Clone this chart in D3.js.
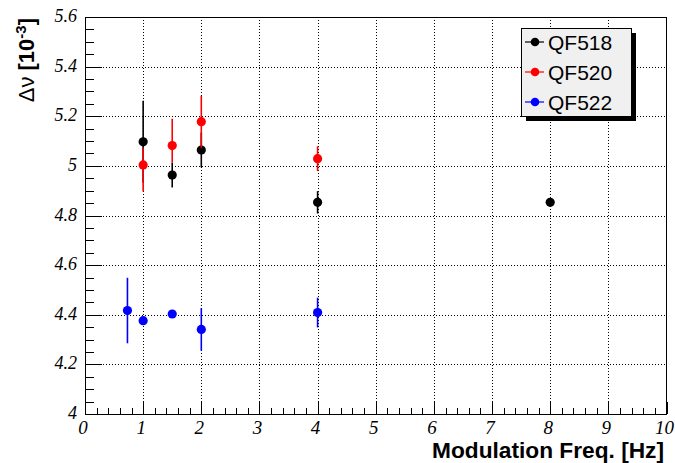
<!DOCTYPE html>
<html>
<head>
<meta charset="utf-8">
<script src="https://cdn.jsdelivr.net/npm/d3@7"></script>
<style>
  html, body { margin: 0; padding: 0; background: #fff; }
  svg { display: block; }
</style>
</head>
<body>
<svg id="chart" width="675" height="463"></svg>
<script>
// Line width measurements vs. modulation frequency
const seriesNames = ["QF518", "QF520", "QF522"];
const seriesColors = ["#000000", "#ff0000", "#0000ff"];

const qf518Freq = [1, 1.5, 2, 4, 8];
const qf518Val  = [5.097, 4.963, 5.064, 4.853, 4.853];
const qf518ErrLo = [0.165, 0.05, 0.07, 0.045, 0.01];
const qf518ErrHi = [0.165, 0.05, 0.07, 0.045, 0.01];

const qf520Freq = [1, 1.5, 2, 4];
const qf520Val  = [5.004, 5.082, 5.178, 5.029];
const qf520ErrLo = [0.107, 0.069, 0.105, 0.05];
const qf520ErrHi = [0.07, 0.108, 0.105, 0.05];

const qf522Freq = [0.73, 1, 1.5, 2, 4];
const qf522Val  = [4.417, 4.376, 4.403, 4.341, 4.409];
const qf522ErrLo = [0.132, 0.01, 0.01, 0.086, 0.06];
const qf522ErrHi = [0.132, 0.01, 0.01, 0.086, 0.06];

const xTicks = [0, 1, 2, 3, 4, 5, 6, 7, 8, 9, 10];
const yTicks = [4, 4.2, 4.4, 4.6, 4.8, 5, 5.2, 5.4, 5.6];
const yTickLabels = ["4", "4.2", "4.4", "4.6", "4.8", "5", "5.2", "5.4", "5.6"];

const series = [
  { freq: qf518Freq, val: qf518Val, lo: qf518ErrLo, hi: qf518ErrHi },
  { freq: qf520Freq, val: qf520Val, lo: qf520ErrLo, hi: qf520ErrHi },
  { freq: qf522Freq, val: qf522Val, lo: qf522ErrLo, hi: qf522ErrHi }
];

const frame = { left: 85, right: 666.5, top: 17, bottom: 414 };
const x = d3.scaleLinear().domain([0, 10]).range([frame.left, frame.right]);
const y = d3.scaleLinear().domain([4, 5.6]).range([frame.bottom, frame.top]);

const svg = d3.select("#chart");

// dotted grid at the major ticks
const grid = svg.append("g").attr("stroke", "#000").attr("stroke-width", 1)
  .attr("stroke-dasharray", "1,2").attr("shape-rendering", "crispEdges");
grid.selectAll("line.gx").data(xTicks.slice(1, -1)).join("line")
  .attr("x1", d => Math.round(x(d)) + 0.5).attr("x2", d => Math.round(x(d)) + 0.5)
  .attr("y1", frame.top).attr("y2", frame.bottom);
grid.selectAll("line.gy").data(yTicks.slice(1, -1)).join("line")
  .attr("y1", d => Math.round(y(d)) + 0.5).attr("y2", d => Math.round(y(d)) + 0.5)
  .attr("x1", frame.left).attr("x2", frame.right);

// bottom axis: major + minor ticks pointing inward
const xAxisMajor = d3.axisBottom(x).tickValues(xTicks).tickSize(-12).tickFormat("");
const xAxisMinor = d3.axisBottom(x).tickValues(d3.range(0, 10.001, 0.2)).tickSize(-6).tickFormat("");
const gx = svg.append("g").attr("transform", `translate(0,${frame.bottom})`);
gx.call(xAxisMinor);
gx.append("g").call(xAxisMajor);
gx.selectAll(".domain").remove();
gx.selectAll("line").attr("stroke", "#000").attr("stroke-width", 1).attr("shape-rendering", "crispEdges");

// left axis: major + minor ticks pointing inward
const yAxisMajor = d3.axisLeft(y).tickValues(yTicks).tickSize(-17).tickFormat("");
const yAxisMinor = d3.axisLeft(y).tickValues(d3.range(4, 5.6001, 0.05)).tickSize(-8.5).tickFormat("");
const gy = svg.append("g").attr("transform", `translate(${frame.left},0)`);
gy.call(yAxisMinor);
gy.append("g").call(yAxisMajor);
gy.selectAll(".domain").remove();
gy.selectAll("line").attr("stroke", "#000").attr("stroke-width", 1).attr("shape-rendering", "crispEdges");

// frame
svg.append("rect")
  .attr("x", frame.left).attr("y", frame.top)
  .attr("width", frame.right - frame.left).attr("height", frame.bottom - frame.top)
  .attr("fill", "none").attr("stroke", "#000").attr("stroke-width", 1)
  .attr("shape-rendering", "crispEdges");

// tick labels
const labelFont = "'Liberation Serif', 'Times New Roman', serif";
svg.append("g").selectAll("text").data(xTicks).join("text")
  .attr("x", d => x(d) - 2).attr("y", 434)
  .attr("text-anchor", "middle")
  .attr("font-family", labelFont).attr("font-style", "italic").attr("font-size", 19)
  .text(d => d);
svg.append("g").selectAll("text").data(yTicks).join("text")
  .attr("x", 77).attr("y", d => y(d) + 5)
  .attr("text-anchor", "end")
  .attr("font-family", labelFont).attr("font-style", "italic").attr("font-size", 18)
  .text((d, i) => yTickLabels[i]);

// axis titles
const sans = "'Liberation Sans', Arial, Helvetica, sans-serif";
svg.append("text")
  .attr("x", 664).attr("y", 458).attr("text-anchor", "end")
  .attr("font-family", sans).attr("font-weight", "bold").attr("font-size", 22)
  .attr("textLength", 232).attr("lengthAdjust", "spacingAndGlyphs")
  .text("Modulation Freq. [Hz]");

const yTitle = svg.append("text")
  .attr("transform", "translate(34,18) rotate(-90)")
  .attr("text-anchor", "end")
  .attr("font-family", sans).attr("font-size", 22);
yTitle.append("tspan").text("\u0394\u03bd ");
yTitle.append("tspan").attr("font-weight", "bold").text("[10");
yTitle.append("tspan").attr("font-weight", "bold").attr("font-size", 15).attr("dy", -8).text("-3");
yTitle.append("tspan").attr("font-weight", "bold").attr("dy", 8).text("]");

// data: error bars then markers, series by series
const plot = svg.append("g");
series.forEach((s, k) => {
  const pts = s.freq.map((f, i) => ({ f, v: s.val[i], lo: s.lo[i], hi: s.hi[i] }));
  const g = plot.append("g");
  g.selectAll("line").data(pts).join("line")
    .attr("x1", d => x(d.f)).attr("x2", d => x(d.f))
    .attr("y1", d => y(d.v - d.lo)).attr("y2", d => y(d.v + d.hi))
    .attr("stroke", seriesColors[k]).attr("stroke-width", 1.6);
  g.selectAll("circle").data(pts).join("circle")
    .attr("cx", d => x(d.f)).attr("cy", d => y(d.v)).attr("r", 4.6)
    .attr("fill", seriesColors[k]);
});

// legend with drop shadow
const leg = { x: 521, y: 28, w: 110, h: 88 };
svg.append("rect").attr("x", leg.x + 5).attr("y", leg.y + 5).attr("width", leg.w).attr("height", leg.h)
  .attr("fill", "#000");
svg.append("rect").attr("x", leg.x).attr("y", leg.y).attr("width", leg.w).attr("height", leg.h)
  .attr("fill", "#f0f0f0").attr("stroke", "#000").attr("stroke-width", 1).attr("shape-rendering", "crispEdges");
const rowY = [42, 72, 102];
seriesNames.forEach((name, k) => {
  svg.append("line").attr("x1", 525).attr("x2", 544).attr("y1", rowY[k]).attr("y2", rowY[k])
    .attr("stroke", seriesColors[k]).attr("stroke-width", 1.2);
  svg.append("circle").attr("cx", 535).attr("cy", rowY[k]).attr("r", 4.3).attr("fill", seriesColors[k]);
  svg.append("text").attr("x", 548).attr("y", rowY[k] + 7.5)
    .attr("font-family", sans).attr("font-size", 21).attr("fill", "#000").text(name);
});
</script>
</body>
</html>
